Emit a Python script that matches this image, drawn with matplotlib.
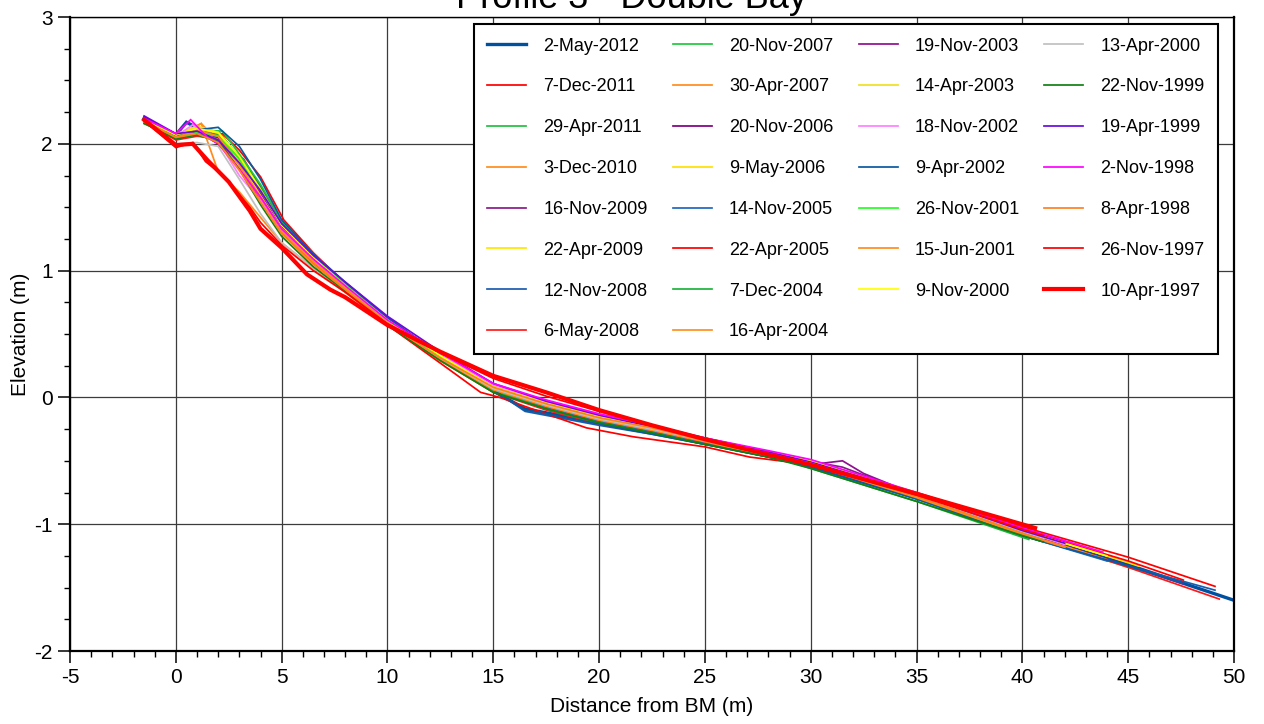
import matplotlib
matplotlib.use('Agg')
import matplotlib.pyplot as plt
from matplotlib.ticker import MultipleLocator

plt.rcParams['font.family'] = ['Liberation Sans', 'DejaVu Sans']
plt.rcParams['axes.unicode_minus'] = False

survey_dates = [
    '2-May-2012', '7-Dec-2011', '29-Apr-2011', '3-Dec-2010', '16-Nov-2009',
    '22-Apr-2009', '12-Nov-2008', '6-May-2008', '20-Nov-2007', '30-Apr-2007',
    '20-Nov-2006', '9-May-2006', '14-Nov-2005', '22-Apr-2005', '7-Dec-2004',
    '16-Apr-2004', '19-Nov-2003', '14-Apr-2003', '18-Nov-2002', '9-Apr-2002',
    '26-Nov-2001', '15-Jun-2001', '9-Nov-2000', '13-Apr-2000', '22-Nov-1999',
    '19-Apr-1999', '2-Nov-1998', '8-Apr-1998', '26-Nov-1997', '10-Apr-1997',
]

# distance from BM (m) for each survey
dist = [
    [-1.5, 0, 0.5, 1.2, 2, 3, 4, 5, 6.5, 8, 10, 12.5, 15, 16.5, 20, 22.5, 25, 28, 30, 35, 40, 45, 50],
    [-1.5, 0, 1, 2.2, 3, 4, 5.1, 6.5, 8, 10, 12.5, 15, 17.5, 20, 22.5, 25, 28, 30, 35, 40, 45, 49.1],
    [-1.5, 0, 1, 2, 2.8, 4, 5, 6.5, 8, 10, 12.5, 15, 17.5, 20, 22.5, 25, 27.5, 30, 35, 40, 42],
    [-1.5, 0, 1.2, 2, 3, 4, 5, 6.5, 8, 10, 12.5, 15, 17.5, 20, 22.5, 25, 28, 30, 35, 40, 45.4],
    [-1.5, 0, 1, 2, 3.2, 4, 5, 6.5, 8, 10, 12.5, 15, 17.5, 20, 22.5, 25, 28, 31.5, 35, 40, 45, 47.6],
    [-1.5, 0, 1, 1.8, 3, 4, 5, 6.5, 8, 10, 12.5, 15, 17.5, 20, 22.5, 25, 28, 30, 35, 40, 43],
    [-1.5, 0, 1, 2, 3, 4, 5, 6.5, 8, 10, 12.5, 15, 16.5, 20, 22.5, 25, 28, 30, 35, 40, 45, 49.1],
    [-1.5, 0, 1, 2, 3, 4, 5, 6.5, 8, 10, 12.5, 15, 17.5, 20, 22.5, 25, 28, 30, 35, 40, 45, 49.3],
    [-1.5, 0, 1, 2.2, 3, 4, 5, 6.5, 8, 10, 12.5, 15, 17.5, 20, 22.5, 25, 28, 30, 35, 40, 41],
    [-1.5, 0, 1.2, 2, 3, 4, 5, 6.5, 8, 10, 12.5, 15, 17.5, 20, 22.5, 25, 28, 30, 35, 40, 44],
    [-1.5, 0, 1, 2, 3, 4, 5, 6.5, 8, 10, 12.5, 15, 17.5, 20, 22.5, 25, 28, 30, 35, 40, 42.5],
    [-1.5, 0, 1, 2, 3, 4, 5, 6.5, 8, 10, 12.5, 15, 17.5, 20, 22.5, 25, 28, 30, 35, 40, 45.5],
    [-1.5, 0, 1, 2, 3, 4, 5, 6.5, 8, 10, 12.5, 15, 17.5, 20, 22.5, 25, 28, 30, 35, 40, 44],
    [-1.5, 0, 1, 2, 3, 4, 5, 6.5, 8, 10, 12.5, 14.4, 15.3, 17.5, 19.4, 21.6, 25, 27.1, 29.5, 35, 40, 45, 47.6],
    [-1.5, 0, 1, 2, 3, 4, 5, 6.5, 8, 10, 12.5, 15, 17.5, 20, 22.5, 25, 27.5, 30, 35, 40.3],
    [-1.5, 0, 1, 2, 3, 4, 5, 6.5, 8, 10, 12.5, 15, 17.5, 20, 22.5, 25, 28, 30, 35, 40, 43],
    [-1.5, 0, 1, 2, 3, 4, 5, 6.5, 8, 10, 12.5, 15, 17.5, 20, 22.5, 25, 28, 30, 31.5, 32.5, 35, 40, 42],
    [-1.5, 0, 1, 2, 3, 4, 5, 6.5, 8, 10, 12.5, 15, 17.5, 20, 22.5, 25, 28, 30, 35, 40, 41.5],
    [-1.5, 0, 0.8, 2, 3, 4, 5, 6.5, 8, 10, 12.5, 15, 17.5, 20, 22.5, 25, 28, 30, 35, 40, 42],
    [-1.5, 0, 1, 2, 3, 4, 5, 6.5, 8, 10, 12.5, 15, 16.5, 20, 22.5, 25, 28, 30, 35, 40, 45, 47.5],
    [-1.5, 0, 1, 2, 3, 4, 5, 6.5, 8, 10, 12.5, 15, 17.5, 20, 22.5, 25, 28, 30, 35, 40, 41],
    [-1.5, 0, 1, 2, 3, 4, 5, 6.5, 8, 10, 12.5, 15, 17.5, 20, 22.5, 25, 28, 30, 35, 40, 42],
    [-1.5, 0, 1, 2, 3, 4, 5, 6.5, 8, 10, 12.5, 15, 17.5, 20, 22.5, 25, 28, 30, 35, 40, 44],
    [-1.5, 0, 1, 2, 3, 4, 5, 6.5, 8, 10, 12.5, 15, 17.5, 20, 22.5, 25, 28, 30, 35, 40, 41],
    [-1.5, 0, 1, 2, 3, 4, 5, 6.5, 8, 10, 12.5, 15, 17.5, 20, 22.5, 25, 28, 30, 35, 40, 41],
    [-1.5, 0, 1, 2, 3, 4, 5, 6.5, 8, 10, 12.5, 15, 17.5, 20, 22.5, 25, 28, 30, 35, 40, 42],
    [-1.5, 0, 0.7, 1.5, 2, 3, 4, 5, 6.5, 8, 10, 12.5, 15, 17.5, 20, 22.5, 25, 28, 30, 35, 40, 43.8],
    [-1.5, 0, 1, 2, 3, 4, 5, 6.5, 8, 10, 12.5, 15, 17.5, 20, 22.5, 25, 28, 30, 35, 40, 42],
    [-1.5, 0, 0.8, 1.4, 2.3, 3.5, 4, 5, 6.5, 8, 10, 12.5, 15, 17.5, 20, 22.5, 25, 28, 30, 35, 40, 41],
    [-1.5, 0, 0.8, 1.5, 2.5, 3.5, 4, 5, 6.2, 7.3, 8, 10, 12.5, 15, 17.5, 20, 22.5, 25, 28, 30, 35, 40.6],
]

# elevation (m) for each survey
elev = [
    [2.20, 2.07, 2.17, 2.11, 2.09, 1.88, 1.62, 1.36, 1.10, 0.88, 0.61, 0.31, 0.05, -0.09, -0.20, -0.27, -0.36, -0.46, -0.54, -0.79, -1.07, -1.32, -1.60],
    [2.18, 2.04, 2.08, 2.08, 1.95, 1.74, 1.40, 1.14, 0.90, 0.62, 0.34, 0.08, -0.06, -0.17, -0.25, -0.34, -0.45, -0.52, -0.75, -1.02, -1.26, -1.49],
    [2.16, 2.05, 2.09, 2.10, 1.93, 1.62, 1.36, 1.10, 0.88, 0.60, 0.30, 0.05, -0.09, -0.20, -0.28, -0.37, -0.42, -0.55, -0.80, -1.08, -1.17],
    [2.19, 2.06, 2.16, 2.02, 1.80, 1.55, 1.30, 1.05, 0.85, 0.58, 0.30, 0.06, -0.08, -0.19, -0.27, -0.36, -0.47, -0.54, -0.79, -1.08, -1.36],
    [2.21, 2.07, 2.08, 2.03, 1.88, 1.66, 1.38, 1.12, 0.89, 0.62, 0.33, 0.09, -0.05, -0.16, -0.24, -0.33, -0.44, -0.55, -0.77, -1.06, -1.33, -1.47],
    [2.18, 2.07, 2.12, 2.10, 1.82, 1.60, 1.32, 1.08, 0.87, 0.59, 0.32, 0.08, -0.05, -0.15, -0.24, -0.33, -0.43, -0.50, -0.76, -1.04, -1.20],
    [2.20, 2.05, 2.09, 2.07, 1.90, 1.63, 1.37, 1.12, 0.90, 0.63, 0.33, 0.06, -0.11, -0.22, -0.29, -0.37, -0.47, -0.55, -0.80, -1.09, -1.33, -1.52],
    [2.17, 2.03, 2.06, 2.04, 1.84, 1.56, 1.30, 1.06, 0.86, 0.58, 0.29, 0.04, -0.10, -0.21, -0.28, -0.36, -0.47, -0.54, -0.78, -1.07, -1.34, -1.59],
    [2.17, 2.04, 2.11, 2.10, 1.92, 1.68, 1.39, 1.13, 0.90, 0.62, 0.32, 0.07, -0.07, -0.18, -0.26, -0.35, -0.45, -0.52, -0.78, -1.08, -1.13],
    [2.18, 2.06, 2.16, 1.78, 1.62, 1.42, 1.22, 1.02, 0.83, 0.57, 0.29, 0.05, -0.08, -0.19, -0.27, -0.36, -0.46, -0.53, -0.78, -1.07, -1.28],
    [2.20, 2.08, 2.10, 2.00, 1.86, 1.64, 1.35, 1.10, 0.89, 0.62, 0.33, 0.08, -0.06, -0.17, -0.25, -0.34, -0.45, -0.53, -0.78, -1.07, -1.20],
    [2.19, 2.08, 2.13, 2.08, 1.88, 1.62, 1.34, 1.09, 0.88, 0.61, 0.33, 0.09, -0.04, -0.15, -0.23, -0.32, -0.43, -0.50, -0.75, -1.04, -1.33],
    [2.20, 2.06, 2.10, 2.07, 1.89, 1.61, 1.35, 1.11, 0.89, 0.62, 0.32, 0.06, -0.08, -0.19, -0.27, -0.36, -0.46, -0.54, -0.80, -1.09, -1.29],
    [2.18, 2.04, 2.08, 2.05, 1.87, 1.60, 1.33, 1.08, 0.86, 0.57, 0.27, 0.04, 0.00, -0.13, -0.24, -0.31, -0.39, -0.47, -0.52, -0.76, -1.04, -1.29, -1.44],
    [2.17, 2.05, 2.08, 2.07, 1.90, 1.65, 1.37, 1.11, 0.88, 0.60, 0.31, 0.05, -0.09, -0.20, -0.28, -0.37, -0.43, -0.56, -0.82, -1.12],
    [2.19, 2.06, 2.10, 2.04, 1.83, 1.57, 1.31, 1.07, 0.86, 0.59, 0.31, 0.07, -0.06, -0.17, -0.25, -0.34, -0.45, -0.52, -0.77, -1.06, -1.23],
    [2.21, 2.07, 2.09, 2.05, 1.87, 1.62, 1.35, 1.10, 0.88, 0.61, 0.32, 0.07, -0.07, -0.18, -0.26, -0.35, -0.45, -0.53, -0.50, -0.60, -0.77, -1.06, -1.16],
    [2.18, 2.07, 2.14, 2.09, 1.86, 1.59, 1.33, 1.09, 0.88, 0.60, 0.32, 0.07, -0.06, -0.16, -0.24, -0.33, -0.43, -0.50, -0.76, -1.05, -1.13],
    [2.19, 2.06, 2.15, 2.02, 1.75, 1.55, 1.31, 1.08, 0.88, 0.61, 0.34, 0.10, -0.03, -0.13, -0.22, -0.32, -0.43, -0.51, -0.76, -1.05, -1.16],
    [2.20, 2.06, 2.11, 2.13, 1.98, 1.72, 1.40, 1.13, 0.91, 0.63, 0.33, 0.06, -0.10, -0.21, -0.29, -0.37, -0.47, -0.55, -0.80, -1.09, -1.33, -1.46],
    [2.17, 2.05, 2.09, 2.06, 1.88, 1.63, 1.36, 1.11, 0.89, 0.61, 0.32, 0.07, -0.06, -0.17, -0.25, -0.34, -0.44, -0.52, -0.78, -1.08, -1.13],
    [2.18, 2.05, 2.11, 2.06, 1.84, 1.58, 1.31, 1.07, 0.87, 0.59, 0.30, 0.06, -0.07, -0.18, -0.26, -0.35, -0.46, -0.53, -0.79, -1.08, -1.18],
    [2.19, 2.07, 2.12, 2.09, 1.90, 1.64, 1.36, 1.10, 0.88, 0.61, 0.33, 0.08, -0.05, -0.16, -0.24, -0.33, -0.43, -0.50, -0.76, -1.05, -1.25],
    [2.18, 2.00, 2.01, 1.98, 1.72, 1.45, 1.22, 1.02, 0.84, 0.58, 0.31, 0.07, -0.06, -0.17, -0.25, -0.34, -0.44, -0.52, -0.77, -1.06, -1.11],
    [2.16, 2.04, 2.07, 2.02, 1.80, 1.52, 1.27, 1.03, 0.84, 0.57, 0.29, 0.04, -0.09, -0.20, -0.28, -0.37, -0.47, -0.56, -0.82, -1.09, -1.14],
    [2.22, 2.08, 2.10, 2.03, 1.85, 1.63, 1.37, 1.12, 0.91, 0.64, 0.36, 0.11, -0.03, -0.14, -0.23, -0.32, -0.43, -0.51, -0.76, -1.05, -1.15],
    [2.20, 2.08, 2.19, 2.05, 2.00, 1.80, 1.58, 1.33, 1.09, 0.88, 0.61, 0.35, 0.11, -0.02, -0.13, -0.22, -0.32, -0.42, -0.49, -0.75, -1.03, -1.22],
    [2.18, 2.05, 2.08, 2.01, 1.79, 1.54, 1.29, 1.05, 0.85, 0.58, 0.31, 0.08, -0.05, -0.16, -0.24, -0.34, -0.45, -0.52, -0.78, -1.07, -1.18],
    [2.18, 1.97, 2.01, 1.86, 1.74, 1.50, 1.38, 1.20, 1.00, 0.83, 0.58, 0.35, 0.15, 0.01, -0.11, -0.22, -0.33, -0.45, -0.53, -0.77, -1.04, -1.09],
    [2.19, 1.99, 2.00, 1.87, 1.70, 1.47, 1.33, 1.18, 0.97, 0.85, 0.79, 0.57, 0.36, 0.17, 0.04, -0.10, -0.22, -0.33, -0.45, -0.53, -0.76, -1.03],
]

line_colors = [
    '#0050a0', '#ff0000', '#20c040', '#ff8c1a', '#8b1a8b',
    '#ffe600', '#1a5cb0', '#ff1a1a', '#1ec83c', '#ff8c1a',
    '#800080', '#ffe000', '#2068c0', '#ff0000', '#1eb43c',
    '#ff9020', '#901090', '#f0e020', '#ff80ff', '#0a5aa0',
    '#22ff22', '#ff8c1a', '#ffff00', '#c0c0c0', '#128012',
    '#6a0ae0', '#ff00ff', '#ff8020', '#ff0000', '#ff0000',
]


def main():
    fig = plt.figure(figsize=(12.64, 7.24), dpi=100)
    ax = fig.add_axes([0.0554, 0.1008, 0.9209, 0.8757])

    for i, (x, y, c, lab) in enumerate(zip(dist, elev, line_colors, survey_dates)):
        lw = 1.25
        if i == 0:
            lw = 2.4
        if i == len(dist) - 1:
            lw = 3.0
        ax.plot(x, y, color=c, lw=lw, label=lab, solid_joinstyle='miter')

    ax.set_xlim(-5, 50)
    ax.set_ylim(-2, 3)
    ax.xaxis.set_major_locator(MultipleLocator(5))
    ax.xaxis.set_minor_locator(MultipleLocator(1))
    ax.yaxis.set_major_locator(MultipleLocator(1))
    ax.yaxis.set_minor_locator(MultipleLocator(0.25))
    ax.tick_params(which='major', direction='out', length=8.5, width=1.1,
                   labelsize=15, pad=4, top=False, right=False)
    ax.tick_params(which='minor', direction='out', length=4.3, width=1.0,
                   top=False, right=False)
    ax.grid(which='major', color='#3c3c3c', lw=0.9)
    ax.set_axisbelow(True)
    for side in ['left', 'bottom', 'right']:
        ax.spines[side].set_linewidth(1.6)
    ax.spines['top'].set_linewidth(1.0)

    ax.set_xlabel('Distance from BM (m)', fontsize=15, labelpad=7)
    ax.set_ylabel('Elevation (m)', fontsize=15)
    ax.yaxis.set_label_coords(-0.034, 0.5)

    # title sits half off the top edge, as in the source figure
    fig.text(0.5, 1 - 8 / 724, 'Profile 3 - Double Bay', fontsize=26,
             ha='center', va='baseline')

    leg = ax.legend(ncol=4, loc='upper left', bbox_to_anchor=(0.347, 0.989),
                    borderaxespad=0, fontsize=13, handlelength=2.15,
                    handletextpad=0.95, columnspacing=1.4, labelspacing=1.32,
                    borderpad=0.75, fancybox=False, framealpha=1)
    leg.get_frame().set_edgecolor('black')
    leg.get_frame().set_linewidth(1.5)

    fig.savefig('out.png', dpi=100)


if __name__ == '__main__':
    main()
